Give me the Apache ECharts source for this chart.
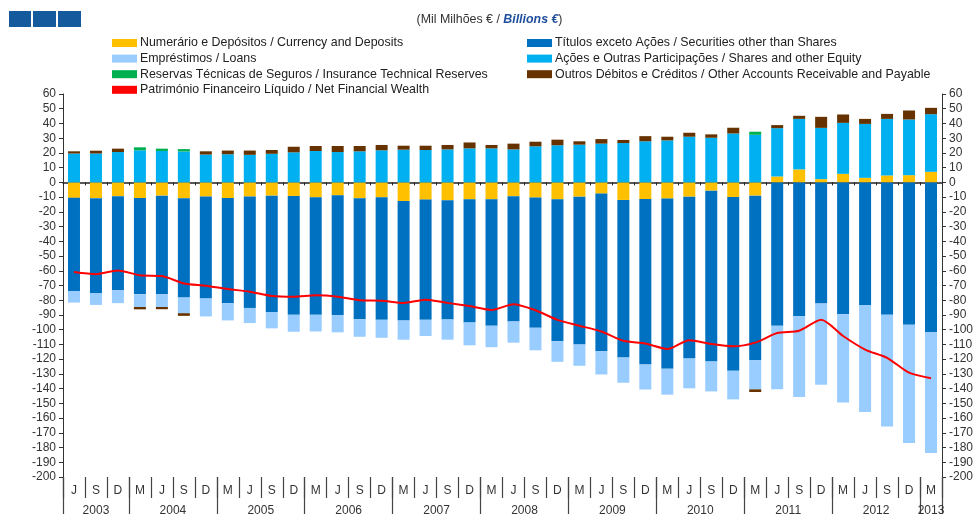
<!DOCTYPE html>
<html>
<head>
<meta charset="utf-8">
<script src="https://cdn.jsdelivr.net/npm/echarts@6/dist/echarts.min.js"></script>
<style>
  html, body { margin: 0; padding: 0; background: #fff; }
  #chart { width: 979px; height: 517px; }
</style>
</head>
<body>
<div id="chart"></div>
<script>
// Quarter-end labels (June 2003 .. March 2013) and the years they belong to
const quarterLabels = [
  'J','S','D',
  'M','J','S','D', 'M','J','S','D', 'M','J','S','D', 'M','J','S','D', 'M','J','S','D',
  'M','J','S','D', 'M','J','S','D', 'M','J','S','D', 'M','J','S','D',
  'M'
];
const yearLabels = ['2003','2004','2005','2006','2007','2008','2009','2010','2011','2012','2013'];

// Axis ticks (thousand million euro)
const yTicksMin = -200;
const yTicksMax = 60;
const yTickStep = 10;

// Instrument contributions (thousand million euro)
const currencyDeposits = [
  -10.5, -10.7, -9.4, -10.6, -9.0, -10.8, -9.6, -10.6, -9.6, -9.0,
  -9.2, -10.1, -8.8, -10.8, -10.1, -12.6, -11.7, -12.1, -11.5, -11.5,
  -9.4, -10.3, -11.5, -9.7, -7.6, -11.9, -11.3, -11.0, -9.7, -5.6,
  -9.9, -9.0, 4.0, 8.8, 2.2, 5.8, 3.1, 4.7, 4.9, 7.2
];
const securities = [
  -63.2, -64.4, -63.7, -65.4, -66.8, -67.4, -69.2, -71.4, -75.6, -79.1,
  -80.7, -79.8, -81.2, -82.1, -83.2, -81.2, -81.6, -81.0, -83.6, -85.8,
  -85.0, -88.4, -96.4, -100.4, -107.0, -107.0, -112.4, -115.5, -109.9, -116.0,
  -118.0, -111.7, -97.3, -90.8, -82.3, -89.5, -83.2, -89.9, -96.7, -101.6
];
const loans = [
  -7.9, -8.1, -8.9, -8.6, -8.8, -10.6, -12.2, -11.7, -10.3, -11.0,
  -11.5, -11.3, -11.8, -11.9, -12.2, -13.0, -11.0, -13.7, -15.5, -14.6,
  -14.4, -15.3, -13.9, -14.4, -15.8, -17.1, -16.9, -17.6, -20.2, -20.3,
  -19.4, -19.8, -43.2, -54.9, -55.0, -60.0, -72.6, -75.8, -80.2, -82.1
];
const sharesEquity = [
  19.6, 19.6, 20.6, 21.8, 21.3, 21.0, 18.9, 19.1, 18.7, 19.4,
  20.4, 21.3, 20.6, 21.1, 21.8, 22.2, 22.0, 22.4, 23.1, 23.1,
  22.4, 24.5, 25.2, 25.6, 26.3, 26.7, 27.9, 28.5, 31.0, 30.3,
  33.2, 32.3, 32.8, 34.3, 34.8, 34.6, 36.6, 38.4, 37.8, 39.1
];
const insuranceReserves = [
  0, 0, 0, 2.0, 1.6, 1.6, 0, 0, 0, 0,
  0, 0, 0, 0, 0, 0, 0, 0, 0, 0,
  0, 0, 0, 0, 0, 0, 0, 0, 0, 0,
  0, 2.1, 0, 0, 0, 0, 0, 0, 0, 0
];
const otherAccounts = [
  1.5, 1.9, 2.3, -1.6, -1.5, -1.8, 2.2, 2.5, 2.9, 2.6,
  3.8, 3.4, 4.1, 3.6, 3.6, 2.7, 2.9, 3.0, 4.0, 2.3,
  3.9, 3.1, 3.8, 2.3, 3.1, 2.1, 3.5, 2.5, 2.7, 2.3,
  3.9, -1.8, 2.1, 2.1, 7.5, 5.7, 3.4, 3.4, 6.1, 4.3
];
const netFinancialWealth = [
  -60.9, -62.3, -59.8, -63.1, -63.6, -68.6, -70.1, -72.4, -74.2, -77.1,
  -77.6, -76.6, -77.6, -80.0, -80.3, -81.8, -79.6, -81.8, -83.9, -86.6,
  -82.7, -86.8, -93.3, -97.3, -101.2, -107.5, -109.4, -113.1, -107.1, -109.7,
  -111.3, -108.8, -102.3, -100.7, -93.3, -104.3, -113.5, -119.1, -129.2, -133.0
];

const categories = quarterLabels.map((q, i) => q + '_' + i);

// Year boundaries: a new year starts at every 'M' quarter
const yearStarts = [0];
quarterLabels.forEach((q, i) => { if (q === 'M') yearStarts.push(i); });
const yearBounds = yearStarts.concat([quarterLabels.length]);
const yearCenters = yearStarts.map((s, k) => (s + yearBounds[k + 1]) / 2);

const FONT = '"Liberation Sans", Arial, sans-serif';
const TEXT = '#333';

const names = {
  cur: 'Numerário e Depósitos / Currency and Deposits',
  sec: 'Títulos exceto Ações / Securities other than Shares',
  loans: 'Empréstimos / Loans',
  shares: 'Ações e Outras Participações / Shares and other Equity',
  ins: 'Reservas Técnicas de Seguros / Insurance Technical Reserves',
  other: 'Outros Débitos e Créditos / Other Accounts Receivable and Payable',
  net: 'Património Financeiro Líquido / Net Financial Wealth'
};

function barSeries(name, data, color) {
  return {
    name, type: 'bar', stack: 'total', data,
    xAxisIndex: 0, yAxisIndex: 0,
    barWidth: 12,
    itemStyle: { color },
    emphasis: { disabled: true }
  };
}

const chart = echarts.init(document.getElementById('chart'), null, { renderer: 'canvas' });

const yAxisCommon = {
  type: 'value', min: yTicksMin, max: yTicksMax, interval: yTickStep,
  axisLine: { show: true, lineStyle: { color: '#333', width: 1 } },
  axisTick: { show: true, length: 4, lineStyle: { color: '#333' } },
  splitLine: { show: false },
  axisLabel: { color: TEXT, fontFamily: FONT, fontSize: 12, margin: 7 }
};

const legendCommon = {
  orient: 'vertical', icon: 'rect', itemWidth: 25, itemHeight: 8,
  itemGap: 3.6, selectedMode: false,
  textStyle: { color: '#222', fontFamily: FONT, fontSize: 12.4, lineHeight: 12, padding: [0, 0, 0, -2] }
};

chart.setOption({
  animation: false,
  backgroundColor: '#fff',
  title: {
    text: '{a|(Mil Milhões € / }{b|Billions €}{a|)}',
    left: 'center', top: 9,
    textStyle: {
      fontWeight: 'normal',
      rich: {
        a: { fontFamily: FONT, fontSize: 12.4, color: '#333', fontWeight: 'normal' },
        b: { fontFamily: FONT, fontSize: 12.4, color: '#1f4e9c', fontWeight: 'bold', fontStyle: 'italic' }
      }
    }
  },
  graphic: [
    { type: 'rect', left: 9, top: 11, shape: { width: 22, height: 16 }, style: { fill: '#165a9e' } },
    { type: 'rect', left: 33, top: 11, shape: { width: 23, height: 16 }, style: { fill: '#165a9e' } },
    { type: 'rect', left: 58, top: 11, shape: { width: 23, height: 16 }, style: { fill: '#165a9e' } }
  ],
  legend: [
    Object.assign({ left: 107, top: 32, data: [names.cur, names.loans, names.ins, names.net] }, legendCommon),
    Object.assign({ left: 522, top: 32, data: [names.sec, names.shares, names.other] }, legendCommon)
  ],
  grid: { left: 63, right: 37, top: 94, bottom: 37, containLabel: false },
  xAxis: [
    {
      // zero line with small quarter ticks
      type: 'category', data: categories, position: 'bottom', boundaryGap: true,
      axisLine: { show: true, onZero: true, lineStyle: { color: '#222', width: 1.5 } },
      axisTick: { show: true, length: 3, interval: 0, lineStyle: { color: '#222' } },
      axisLabel: { show: false },
      splitLine: { show: false }
    },
    {
      // quarter labels below the plot
      type: 'category', data: categories, position: 'bottom', boundaryGap: true,
      axisLine: { show: false, onZero: false },
      axisTick: { show: true, length: 21, interval: 0, lineStyle: { color: '#444', width: 1.2 } },
      axisLabel: {
        show: true, interval: 0, margin: 8, color: TEXT, fontFamily: FONT, fontSize: 12,
        formatter: v => v.split('_')[0]
      },
      splitLine: { show: false }
    },
    {
      // year labels and year separators
      type: 'value', min: 0, max: quarterLabels.length, position: 'bottom',
      axisLine: { show: false, onZero: false },
      axisTick: { show: true, length: 37, customValues: yearBounds, lineStyle: { color: '#444', width: 1.2 } },
      axisLabel: {
        show: true, margin: 28, color: TEXT, fontFamily: FONT, fontSize: 12,
        customValues: yearCenters,
        formatter: v => {
          const k = yearCenters.indexOf(v);
          return k >= 0 ? yearLabels[k] : '';
        }
      },
      splitLine: { show: false }
    }
  ],
  yAxis: [
    Object.assign({ position: 'left' }, yAxisCommon),
    Object.assign({ position: 'right' }, yAxisCommon)
  ],
  series: [
    barSeries(names.cur, currencyDeposits, '#ffc000'),
    barSeries(names.sec, securities, '#0070c0'),
    barSeries(names.loans, loans, '#99ccff'),
    barSeries(names.shares, sharesEquity, '#00b0f0'),
    barSeries(names.ins, insuranceReserves, '#00b050'),
    barSeries(names.other, otherAccounts, '#663300'),
    {
      name: names.net, type: 'line', data: netFinancialWealth,
      xAxisIndex: 0, yAxisIndex: 0,
      smooth: 0.25, symbol: 'none', z: 5,
      lineStyle: { color: '#ff0000', width: 2 },
      itemStyle: { color: '#ff0000' },
      emphasis: { disabled: true }
    }
  ]
});
</script>
</body>
</html>
